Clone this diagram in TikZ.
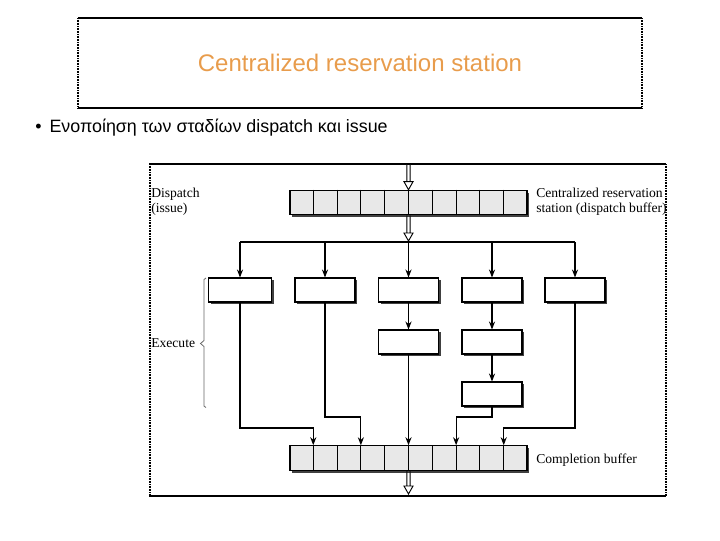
\documentclass[tikz,border=0pt]{standalone}
\usepackage{fontspec}
\setmainfont{Liberation Serif}
\newfontfamily\arialf{Liberation Sans}
\usetikzlibrary{arrows.meta,calc,shadows}
\definecolor{titleorange}{RGB}{232,156,76}
\definecolor{buffill}{RGB}{232,232,232}
\tikzset{
  shad/.style={drop shadow={shadow xshift=1.8pt,shadow yshift=-1.8pt,opacity=1,fill=black!75}},
  ebox/.style={draw=black, line width=0.8pt, fill=white, inner sep=0pt, minimum width=45pt, minimum height=18pt, shad},
  bufbox/.style={draw=black, line width=0.8pt, fill=buffill, inner sep=0pt, minimum width=177.75pt, minimum height=18.4pt, shad},
  lbl/.style={font=\fontsize{10.2}{11.4}\selectfont, inner sep=0pt, align=left},
  arr/.style={line width=0.8pt, -{Stealth[length=6pt,width=4.6pt]}},
  conn/.style={line width=0.8pt},
  dblarr/.style={line width=0.7pt, to path={
     ($(\tikztostart)+(-1.7,0)$) -- ($(\tikztotarget)+(-1.7,-8)$)
     ($(\tikztostart)+(1.7,0)$) -- ($(\tikztotarget)+(1.7,-8)$)
     ($(\tikztotarget)+(-4.5,-8)$) -- (\tikztotarget) -- ($(\tikztotarget)+(4.5,-8)$) -- cycle}},
  solidframe/.style={line width=0.8pt, black},
  dotframe/.style={line width=0.8pt, black, dash pattern=on 0.6pt off 0.6pt}
}
\begin{document}
\begin{tikzpicture}[x=0.75pt,y=-0.75pt]
\useasboundingbox (0,0) rectangle (720,540);
% title box
\draw[solidframe] (78,18) -- (642,18);
\draw[solidframe] (78,108) -- (642,108);
\draw[dotframe] (78,18) -- (78,108);
\draw[dotframe] (642,18) -- (642,108);
\node[font=\arialf\fontsize{18}{20}\selectfont, text=titleorange] (title) at (360,63) {Centralized reservation station};
% bullet
\node[anchor=base west, inner sep=0pt, font=\arialf\fontsize{13.4}{15}\selectfont] (bul) at (35,132) {•\hspace{6pt}Ενοποίηση των σταδίων dispatch και issue};
% figure frame
\draw[solidframe] (149,164) -- (666,164);
\draw[solidframe] (149,496) -- (666,496);
\draw[dotframe] (150,164) -- (150,496);
\draw[dotframe] (666,164) -- (666,496);

% buffers
\node[bufbox] (db) at (408.5,202.5) {};
\node[bufbox] (cb) at (408.5,458) {};
\foreach \b in {db,cb}{
  \foreach \i in {1,...,9}{
    \draw[line width=0.8pt] ($(\b.north west)!\i/10!(\b.north east)$) -- ($(\b.south west)!\i/10!(\b.south east)$);
  }
}
\foreach \i in {1,...,9}{
  \coordinate (c\i) at ($(cb.north west)!\i/10!(cb.north east)$);
}
% execution boxes
\node[ebox, minimum width=47pt] (e1) at (240,290) {};
\node[ebox] (e2) at (325,290) {};
\node[ebox] (e3) at (408.5,290) {};
\node[ebox] (e4) at (492,290) {};
\node[ebox] (e5) at (575,290) {};
\node[ebox] (f3) at (408.5,342) {};
\node[ebox] (f4) at (492,342) {};
\node[ebox] (g4) at (492,394) {};

% labels
\node[lbl, anchor=north west] (dl) at (151,188) {Dispatch\\(issue)};
\node[lbl, anchor=north west] (rl) at (536,188) {Centralized reservation\\station (dispatch buffer)};
\node[lbl, anchor=base west] (xl) at (151,347) {Execute};
\node[lbl, anchor=base west] (cl) at (536,463) {Completion buffer};

% brace
\draw[black!60, line width=0.6pt] (206,278) -- (204,279.5) -- (204,340.5) -- (200.5,343.5) -- (204,346.5) -- (204,406) -- (206,407.5);

% dispatch arrows
\coordinate (in) at (408.5,164);
\coordinate (split) at (408.5,242);
\coordinate (out) at (408.5,494);
\draw[dblarr, fill=white] (in) to (db.north);
\draw[dblarr, fill=white] (db.south) to ($(split)+(0,-1)$);
\draw[conn] (e1.north |- split) -- (e5.north |- split);
\foreach \e in {e1,e2,e3,e4,e5}{
  \draw[arr] (\e.north |- split) -- (\e.north);
}
\draw[arr] (e3.south) -- (f3.north);
\draw[arr] (e4.south) -- (f4.north);
\draw[arr] (f4.south) -- (g4.north);

% to completion buffer
\coordinate (lowbus) at (0,428);
\coordinate (highbus) at (0,417);
\draw[arr] (e1.south) -- (e1.south |- lowbus) -| (c1);
\draw[arr] (e2.south) -- (e2.south |- highbus) -| (c3);
\draw[arr] (f3.south) -- (c5);
\draw[arr] (g4.south) -- (g4.south |- highbus) -| (c7);
\draw[arr] (e5.south) -- (e5.south |- lowbus) -| (c9);
\draw[dblarr, fill=white] (cb.south) to (out);
\end{tikzpicture}
\end{document}
